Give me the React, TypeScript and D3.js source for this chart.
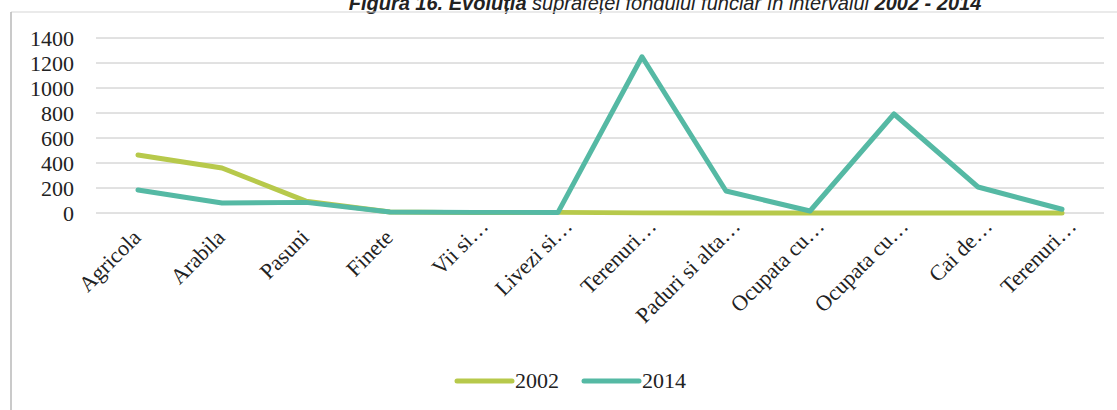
import React from "react";
import * as d3 from "d3";

const categories: string[] = [
  "Agricola",
  "Arabila",
  "Pasuni",
  "Finete",
  "Vii si…",
  "Livezi si…",
  "Terenuri…",
  "Paduri si alta…",
  "Ocupata cu…",
  "Ocupata cu…",
  "Cai de…",
  "Terenuri…",
];

const values2002: number[] = [464, 360, 95, 8, 3, 5, 1, 1, 1, 1, 1, 1];
const values2014: number[] = [184, 80, 85, 8, 5, 5, 1250, 176, 16, 792, 208, 30];

const yTicks: number[] = [0, 200, 400, 600, 800, 1000, 1200, 1400];

const seriesNames: string[] = ["2002", "2014"];

const W = 1117;
const H = 410;
const COL_2002 = "#b7c94b";
const COL_2014 = "#55b9a4";
const SERIF = "'Liberation Serif', 'DejaVu Serif', serif";

export default function App() {
  const idx = categories.map((_, i) => i);
  const x = d3.scaleBand<number>().domain(idx).range([96, 1104]).paddingInner(0).paddingOuter(0);
  const cx = (i: number) => (x(i) as number) + x.bandwidth() / 2;
  const y = d3.scaleLinear().domain([0, 1400]).range([213, 38]);

  const line = d3
    .line<number>()
    .x((_, i) => cx(i))
    .y((d) => y(d))
    .curve(d3.curveLinear);

  const series = [
    { name: seriesNames[0], values: values2002, color: COL_2002 },
    { name: seriesNames[1], values: values2014, color: COL_2014 },
  ];

  return (
    <svg
      width={W}
      height={H}
      style={{ position: "absolute", left: 0, top: 0, background: "#fff" }}
    >
      <rect x={0} y={0} width={W} height={H} fill="#ffffff" />
      {/* Title (partly cut at the top, as in the reference) */}
      <text
        x={665}
        y={10}
        textAnchor="middle"
        fontFamily="'Liberation Sans', Arial, sans-serif"
        fontSize={20}
        fontStyle="italic"
        fill="#222"
      >
        <tspan fontWeight="bold">Figura 16. Evoluția</tspan>
        <tspan> suprafeței fondului funciar în intervalul </tspan>
        <tspan fontWeight="bold">2002 - 2014</tspan>
      </text>
      {/* frame */}
      <line x1={11} y1={12} x2={W} y2={12} stroke="#d6d6d6" strokeWidth={1.2} />
      <line x1={11} y1={12} x2={11} y2={H} stroke="#b8b8b8" strokeWidth={1.5} />

      {/* gridlines */}
      {yTicks.map((t) => (
        <line
          key={"g" + t}
          x1={96}
          x2={1104}
          y1={y(t)}
          y2={y(t)}
          stroke="#c4c4c4"
          strokeWidth={1}
        />
      ))}
      {/* y labels */}
      {yTicks.map((t) => (
        <text
          key={"yl" + t}
          x={74}
          y={y(t)}
          dy="0.35em"
          textAnchor="end"
          fontFamily={SERIF}
          fontSize={22}
          fill="#222"
        >
          {t}
        </text>
      ))}

      {/* lines */}
      {series.map((s) => (
        <path
          key={s.name}
          d={line(s.values) || ""}
          fill="none"
          stroke={s.color}
          strokeWidth={5}
          strokeLinejoin="round"
          strokeLinecap="round"
        />
      ))}

      {/* x labels */}
      {categories.map((c, i) => {
        const truncated = c.endsWith("…");
        return (
          <text
            key={"xl" + i}
            transform={`translate(${cx(i) + 10},222) rotate(-45)`}
            dx={truncated ? 0 : -16}
            dy="0.35em"
            textAnchor="end"
            fontFamily={SERIF}
            fontSize={22}
            fill="#222"
          >
            {c}
          </text>
        );
      })}

      {/* legend */}
      {series.map((s, i) => {
        const lx = 457 + i * 127;
        return (
          <g key={"lg" + s.name}>
            <line
              x1={lx}
              x2={lx + 55}
              y1={381}
              y2={381}
              stroke={s.color}
              strokeWidth={5}
              strokeLinecap="round"
            />
            <text
              x={lx + 58}
              y={388}
              fontFamily={SERIF}
              fontSize={22}
              fill="#222"
            >
              {s.name}
            </text>
          </g>
        );
      })}
    </svg>
  );
}
